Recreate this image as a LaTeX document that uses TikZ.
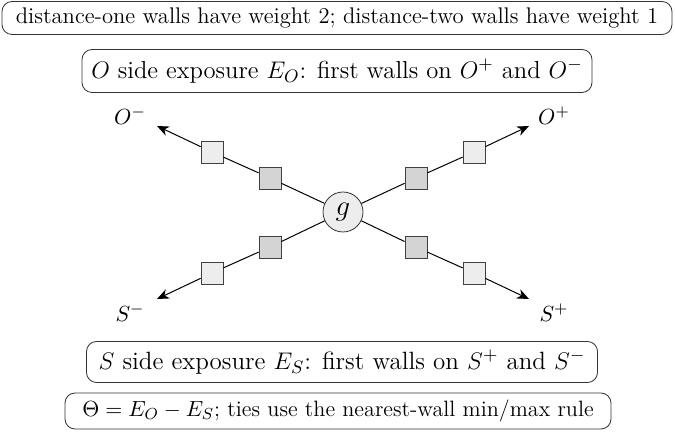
\documentclass[tikz,border=0pt]{standalone}
\usetikzlibrary{arrows.meta,calc}
\begin{document}
\begin{tikzpicture}[x=0.5pt,y=-0.5pt,
  infobox/.style={draw=black!80, rounded corners=5pt, inner xsep=2pt, inner ysep=0pt, fill=white},
  wallnear/.style={draw=black!75, fill=black!17, minimum size=11pt, inner sep=0pt},
  wallfar/.style={draw=black!75, fill=black!7, minimum size=11pt, inner sep=0pt},
  ray/.style={draw=black, line width=0.5pt},
  tipray/.style={draw=black, line width=0.5pt, -{Stealth[length=6pt,width=5pt]}},
  lab/.style={inner sep=0pt, font=\fontsize{11}{13}\selectfont}]
\useasboundingbox (0,0) rectangle (675,432);
\node[infobox, minimum width=335pt, minimum height=16.5pt, font=\fontsize{11.3}{13}\selectfont] (top) at (337,18) {distance-one walls have weight 2; distance-two walls have weight 1};
\node[infobox, minimum width=255pt, minimum height=21.5pt, font=\fontsize{12.3}{15}\selectfont] (obox) at (337,71) {$O$ side exposure $E_O$: first walls on $O^{+}$ and $O^{-}$};
\node[infobox, minimum width=255.5pt, minimum height=20.5pt, font=\fontsize{12.5}{15}\selectfont] (sbox) at (342,362) {$S$ side exposure $E_S$: first walls on $S^{+}$ and $S^{-}$};
\node[infobox, minimum width=273pt, minimum height=18pt, font=\fontsize{11.1}{13}\selectfont] (tbox) at (338,411) {$\Theta=E_O-E_S$; ties use the nearest-wall min/max rule};

\node[draw=black!80, fill=black!7, circle, minimum size=20pt, inner sep=0pt, font=\fontsize{14}{16}\selectfont] (g) at (343,212) {$g$};

\coordinate (tOm) at (157,126);
\coordinate (tOp) at (529,126);
\coordinate (tSm) at (157,299);
\coordinate (tSp) at (529,299);

\node[wallnear] (n1) at (270,178) {};
\node[wallfar] (f1) at (212,152) {};
\node[wallnear] (n2) at (416,178) {};
\node[wallfar] (f2) at (474,152) {};
\node[wallnear] (n3) at (270,247) {};
\node[wallfar] (f3) at (212,273) {};
\node[wallnear] (n4) at (416,247) {};
\node[wallfar] (f4) at (474,273) {};

\draw[ray] (g) -- (n1); \draw[ray] (n1) -- (f1); \draw[tipray] (f1) -- (tOm);
\draw[ray] (g) -- (n2); \draw[ray] (n2) -- (f2); \draw[tipray] (f2) -- (tOp);
\draw[ray] (g) -- (n3); \draw[ray] (n3) -- (f3); \draw[tipray] (f3) -- (tSm);
\draw[ray] (g) -- (n4); \draw[ray] (n4) -- (f4); \draw[tipray] (f4) -- (tSp);

\node[lab] (lOm) at (130,116) {$O^{-}$};
\node[lab] (lOp) at (554,116) {$O^{+}$};
\node[lab] (lSm) at (130,313) {$S^{-}$};
\node[lab] (lSp) at (554,313) {$S^{+}$};
\end{tikzpicture}
\end{document}
